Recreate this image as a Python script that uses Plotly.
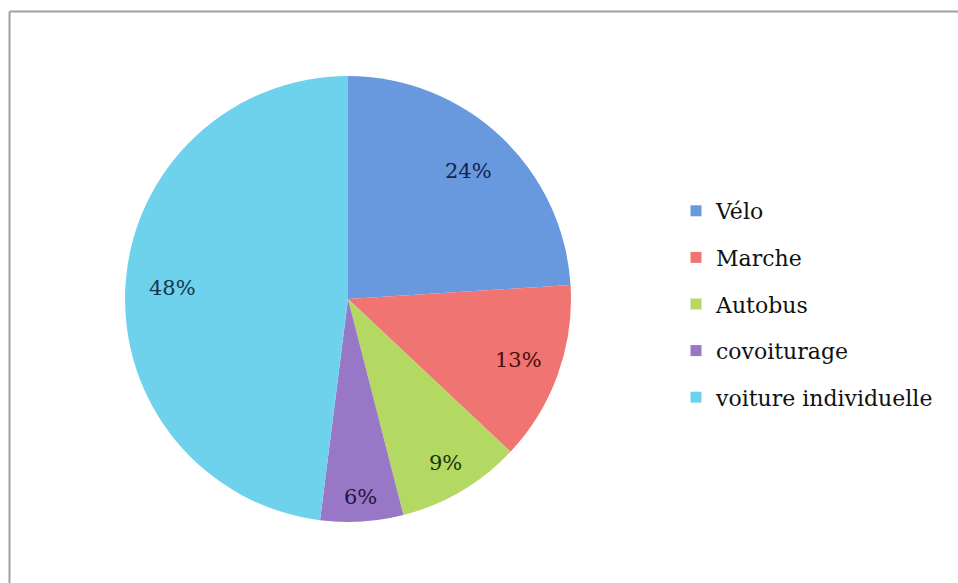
import math
import plotly.graph_objects as go

labels = ["Vélo", "Marche", "Autobus", "covoiturage", "voiture individuelle"]
values = [24, 13, 9, 6, 48]
colors = ["#6898de", "#ef7472", "#b3d963", "#9877c6", "#6fd2ed"]
text_colors = ["#14244a", "#4a0e0e", "#1e3208", "#24163e", "#15374a"]

W, H = 958, 583
# pie placement (pixels)
CX, CY, R = 348, 299, 223

fig = go.Figure()
fig.add_trace(go.Pie(
    labels=labels, values=values, sort=False, direction="clockwise", rotation=0,
    marker=dict(colors=colors, line=dict(width=0)),
    textinfo="none",
    domain=dict(x=[(CX - R) / W, (CX + R) / W], y=[1 - (CY + R) / H, 1 - (CY - R) / H]),
    showlegend=False, hoverinfo="label+percent",
))
for lab, col in zip(labels, colors):
    fig.add_trace(go.Scatter(
        x=[None], y=[None], mode="markers", name=lab, legendgroup=lab,
        marker=dict(symbol="square", size=11, color=col),
    ))

# percentage labels placed along each slice's mid-angle
total = sum(values)
annotations = []
cum = 0
for v, tc in zip(values, text_colors):
    mid = (cum + v / 2) / total * 2 * math.pi
    cum += v
    rf = 0.79 + 0.1 * max(0, 15 - v) / 9
    px = CX + rf * R * math.sin(mid)
    py = CY - rf * R * math.cos(mid)
    annotations.append(dict(
        x=px / W, y=1 - py / H, xref="paper", yref="paper",
        text=f"{round(100 * v / total)}%", showarrow=False,
        font=dict(family="DejaVu Serif", size=21, color=tc),
        xanchor="center", yanchor="middle",
    ))

frame_line = dict(color="#a0a0a0", width=2)
fig.update_layout(
    width=W, height=H, margin=dict(l=0, r=0, t=0, b=0),
    paper_bgcolor="white", plot_bgcolor="white",
    xaxis=dict(visible=False), yaxis=dict(visible=False),
    annotations=annotations,
    legend=dict(x=676 / W, xanchor="left", y=1 - 304 / H, yanchor="middle",
                font=dict(family="DejaVu Serif", size=22, color="#111111"),
                tracegroupgap=15, bgcolor="rgba(0,0,0,0)"),
    shapes=[
        dict(type="line", xref="paper", yref="paper",
             x0=9.5 / W, x1=1.0, y0=1 - 11.5 / H, y1=1 - 11.5 / H, line=frame_line),
        dict(type="line", xref="paper", yref="paper",
             x0=9.5 / W, x1=9.5 / W, y0=0.0, y1=1 - 11.5 / H, line=frame_line),
    ],
)
fig.write_html("out.html", config={"displayModeBar": False},
               post_script="document.body.style.margin='0px';document.body.style.overflow='hidden';")
